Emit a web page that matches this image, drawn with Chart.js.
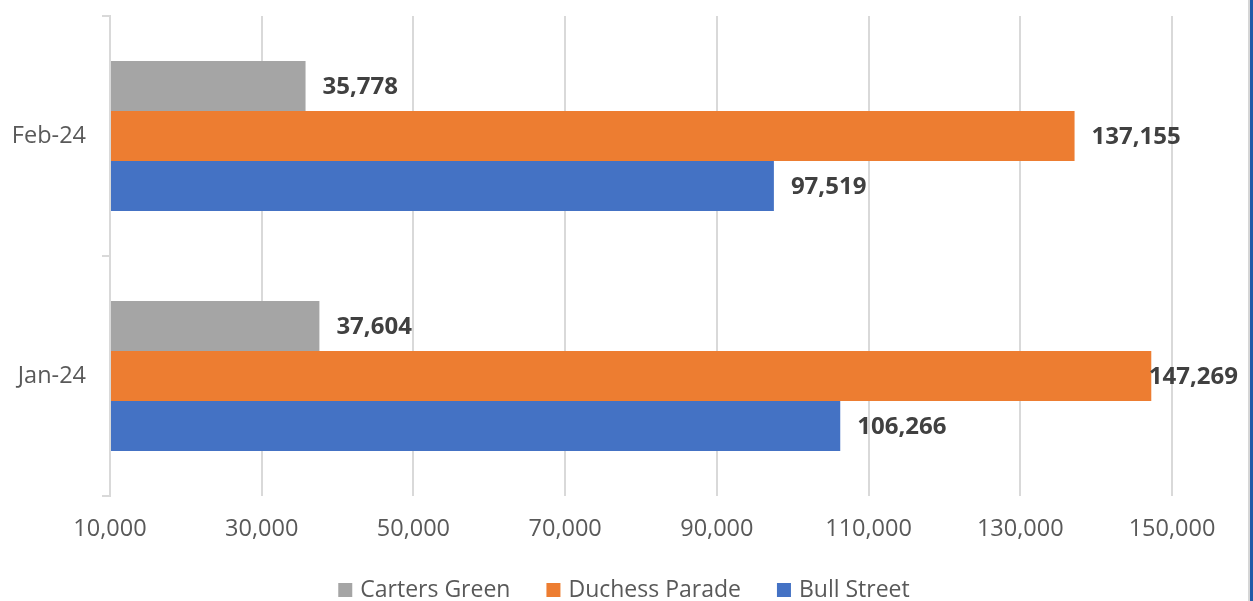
<!DOCTYPE html>
<html>
<head>
<meta charset="utf-8">
<script src="https://cdn.jsdelivr.net/npm/chart.js@4.4.1/dist/chart.umd.min.js"></script>
<style>
  html, body { margin: 0; padding: 0; background: #fff; }
  #wrap { position: relative; width: 1253px; height: 601px; }
  #edge { position: absolute; top: 0; right: 0; width: 3px; height: 601px; background: #1f5ca8; border-left: 2px solid #d6d6d6; }
</style>
</head>
<body>
<div id="wrap">
  <canvas id="barChart" width="1253" height="601"></canvas>
  <div id="edge"></div>
</div>
<script>
const months = ["Feb-24", "Jan-24"];
const cartersGreen = [35778, 37604];
const duchessParade = [137155, 147269];
const bullStreet = [97519, 106266];
const seriesNames = ["Carters Green", "Duchess Parade", "Bull Street"];
const seriesColors = ["#a5a5a5", "#ed7d31", "#4472c4"];

const FONT = "'Open Sans', 'Noto Sans', sans-serif";

// value labels next to each bar
const valueLabels = {
  id: "valueLabels",
  afterDatasetsDraw(chart) {
    const ctx = chart.ctx;
    ctx.save();
    ctx.font = "bold 24px " + FONT;
    ctx.fillStyle = "#404040";
    ctx.textAlign = "left";
    ctx.textBaseline = "middle";
    chart.data.datasets.forEach((ds, i) => {
      chart.getDatasetMeta(i).data.forEach((bar, j) => {
        const txt = ds.data[j].toLocaleString("en-US");
        const w = ctx.measureText(txt).width;
        let x = bar.x + 17;
        if (x + w > 1238) x = 1238 - w;
        ctx.fillText(txt, x, bar.y + 1);
      });
    });
    ctx.restore();
  }
};

// legend drawn under the axis
const bottomLegend = {
  id: "bottomLegend",
  afterDraw(chart) {
    const ctx = chart.ctx;
    ctx.save();
    ctx.font = "23px " + FONT;
    ctx.textBaseline = "middle";
    ctx.textAlign = "left";
    const box = 14, gap = 8, spacing = 36;
    const widths = seriesNames.map(n => ctx.measureText(n).width);
    const total = widths.reduce((a, b) => a + b, 0) + seriesNames.length * (box + gap) + spacing * (seriesNames.length - 1);
    let x = 624 - total / 2;
    const y = 590;
    seriesNames.forEach((n, i) => {
      ctx.fillStyle = seriesColors[i];
      ctx.fillRect(x, y - box / 2, box, box);
      ctx.fillStyle = "#595959";
      ctx.fillText(n, x + box + gap, y);
      x += box + gap + widths[i] + spacing;
    });
    ctx.restore();
  }
};

const barChart = new Chart(
  document.getElementById("barChart"),
  {
    type: "bar",
    data: {
      labels: months,
      datasets: [
        { label: seriesNames[0], data: cartersGreen, backgroundColor: seriesColors[0] },
        { label: seriesNames[1], data: duchessParade, backgroundColor: seriesColors[1] },
        { label: seriesNames[2], data: bullStreet, backgroundColor: seriesColors[2] }
      ]
    },
    options: {
      indexAxis: "y",
      responsive: false,
      animation: false,
      base: 10000,
      categoryPercentage: 0.625,
      barPercentage: 1,
      layout: { padding: { top: 16, right: 81, bottom: 50, left: 0 } },
      plugins: {
        legend: { display: false },
        tooltip: { enabled: false }
      },
      scales: {
        x: {
          min: 10000,
          max: 150000,
          afterFit: (s) => { s.height = 55; s.paddingLeft = 0; s.paddingRight = 0; },
          ticks: {
            stepSize: 20000,
            color: "#595959",
            font: { family: FONT, size: 23.5 },
            padding: 19,
            callback: (v) => v.toLocaleString("en-US")
          },
          grid: { color: "#d9d9d9", lineWidth: 2, drawTicks: false },
          border: { display: false }
        },
        y: {
          afterFit: (s) => { s.width = 110; s.paddingTop = 0; s.paddingBottom = 0; },
          ticks: {
            color: "#595959",
            font: { family: FONT, size: 23.5 },
            padding: 16
          },
          grid: { color: "#d9d9d9", lineWidth: 2, drawOnChartArea: false, tickLength: 8, offset: true },
          border: { display: true, color: "#d9d9d9", width: 2 }
        }
      }
    },
    plugins: [valueLabels, bottomLegend]
  }
);
</script>
</body>
</html>
